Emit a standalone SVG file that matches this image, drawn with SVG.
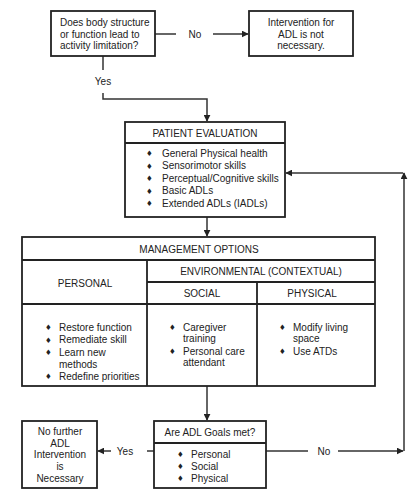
<svg xmlns="http://www.w3.org/2000/svg" width="414" height="500" viewBox="0 0 414 500">
<defs>
<marker id="ah" viewBox="0 0 10 10" refX="9" refY="5" markerWidth="7" markerHeight="7" markerUnits="userSpaceOnUse" orient="auto">
<path d="M0,0 L10,5 L0,10 z" fill="#222"/>
</marker>
<style>
.box{fill:#fff;stroke:#222;stroke-width:1.8}
.ln{fill:none;stroke:#222;stroke-width:1.8}
.c{fill:none;stroke:#333;stroke-width:1.5}
text{font-family:"Liberation Sans",Arial,sans-serif;font-size:10px;fill:#222}
.m{text-anchor:middle}
.b{font-family:"DejaVu Sans",sans-serif;font-size:7.5px}
</style>
</defs>
<rect width="414" height="500" fill="#fff"/>

<g id="connectors">
<path class="c" d="M155,34 H176"/>
<text class="m" x="195" y="37.5">No</text>
<path class="c" d="M213,34 H248" marker-end="url(#ah)"/>
<path class="c" d="M103,56 V70"/>
<text class="m" x="103" y="85">Yes</text>
<path class="c" d="M103,93 V99 H207 V121" marker-end="url(#ah)"/>
<path class="c" d="M207,217 V236" marker-end="url(#ah)"/>
<path class="c" d="M207,386 V420" marker-end="url(#ah)"/>
<path class="c" d="M154,451 H147"/>
<text class="m" x="125" y="454.5">Yes</text>
<path class="c" d="M111,451 H98" marker-end="url(#ah)"/>
<path class="c" d="M266,451 H308"/>
<text class="m" x="324" y="454.5">No</text>
<path class="c" d="M338,451 H403" marker-end="url(#ah)"/>
<path class="c" d="M404,451 V173" marker-end="url(#ah)"/>
<path class="c" d="M403,173 H286" marker-end="url(#ah)"/>
</g>

<g id="q1">
<rect class="box" x="51" y="11" width="104" height="45"/>
<text x="60" y="25.5">Does body structure</text>
<text x="60" y="37.5">or function lead to</text>
<text x="60" y="49">activity limitation?</text>
</g>

<g id="notnecessary">
<rect class="box" x="249" y="11" width="104" height="45"/>
<text class="m" x="301" y="25.5">Intervention for</text>
<text class="m" x="301" y="37.5">ADL is not</text>
<text class="m" x="301" y="49">necessary.</text>
</g>

<g id="evaluation">
<rect class="box" x="125" y="122" width="160" height="95"/>
<path class="ln" d="M125,143 H285"/>
<text class="m" x="205" y="136.5">PATIENT EVALUATION</text>
<text class="b" x="146" y="156">♦</text><text x="162" y="156.5">General Physical health</text>
<text class="b" x="146" y="168.5">♦</text><text x="162" y="169">Sensorimotor skills</text>
<text class="b" x="146" y="181">♦</text><text x="162" y="181.5">Perceptual/Cognitive skills</text>
<text class="b" x="146" y="193.5">♦</text><text x="162" y="194">Basic ADLs</text>
<text class="b" x="146" y="206">♦</text><text x="162" y="206.5">Extended ADLs (IADLs)</text>
</g>

<g id="management">
<rect class="box" x="22" y="237" width="353" height="149"/>
<path class="ln" d="M22,260 H375 M147,260 V386 M147,282 H375 M257,282 V386 M22,304 H375"/>
<text class="m" x="199" y="252.5">MANAGEMENT OPTIONS</text>
<text class="m" x="261" y="274.5">ENVIRONMENTAL (CONTEXTUAL)</text>
<text class="m" x="85" y="286.5">PERSONAL</text>
<text class="m" x="202" y="296.5">SOCIAL</text>
<text class="m" x="312" y="296.5">PHYSICAL</text>
<text class="b" x="45" y="330">♦</text><text x="59" y="330.5">Restore function</text>
<text class="b" x="45" y="342.5">♦</text><text x="59" y="343">Remediate skill</text>
<text class="b" x="45" y="355">♦</text><text x="59" y="355.5">Learn new</text>
<text x="59" y="367.5">methods</text>
<text class="b" x="45" y="379">♦</text><text x="59" y="379.5">Redefine priorities</text>
<text class="b" x="169" y="330">♦</text><text x="183" y="330.5">Caregiver</text>
<text x="183" y="341.5">training</text>
<text class="b" x="169" y="354">♦</text><text x="183" y="354.5">Personal care</text>
<text x="183" y="366">attendant</text>
<text class="b" x="279" y="330">♦</text><text x="293" y="330.5">Modify living</text>
<text x="293" y="341.5">space</text>
<text class="b" x="279" y="354">♦</text><text x="293" y="354.5">Use ATDs</text>
</g>

<g id="goals">
<rect class="box" x="154" y="421" width="112" height="67"/>
<path class="ln" d="M154,443 H266"/>
<text class="m" x="210" y="435.5">Are ADL Goals met?</text>
<text class="b" x="177" y="457">♦</text><text x="191" y="457.5">Personal</text>
<text class="b" x="177" y="469">♦</text><text x="191" y="469.5">Social</text>
<text class="b" x="177" y="481">♦</text><text x="191" y="481.5">Physical</text>
</g>

<g id="nofurther">
<rect class="box" x="22" y="421" width="75" height="67"/>
<text class="m" x="60" y="434.5">No further</text>
<text class="m" x="60" y="446.5">ADL</text>
<text class="m" x="60" y="458">Intervention</text>
<text class="m" x="60" y="469.5">is</text>
<text class="m" x="60" y="481.5">Necessary</text>
</g>
</svg>
